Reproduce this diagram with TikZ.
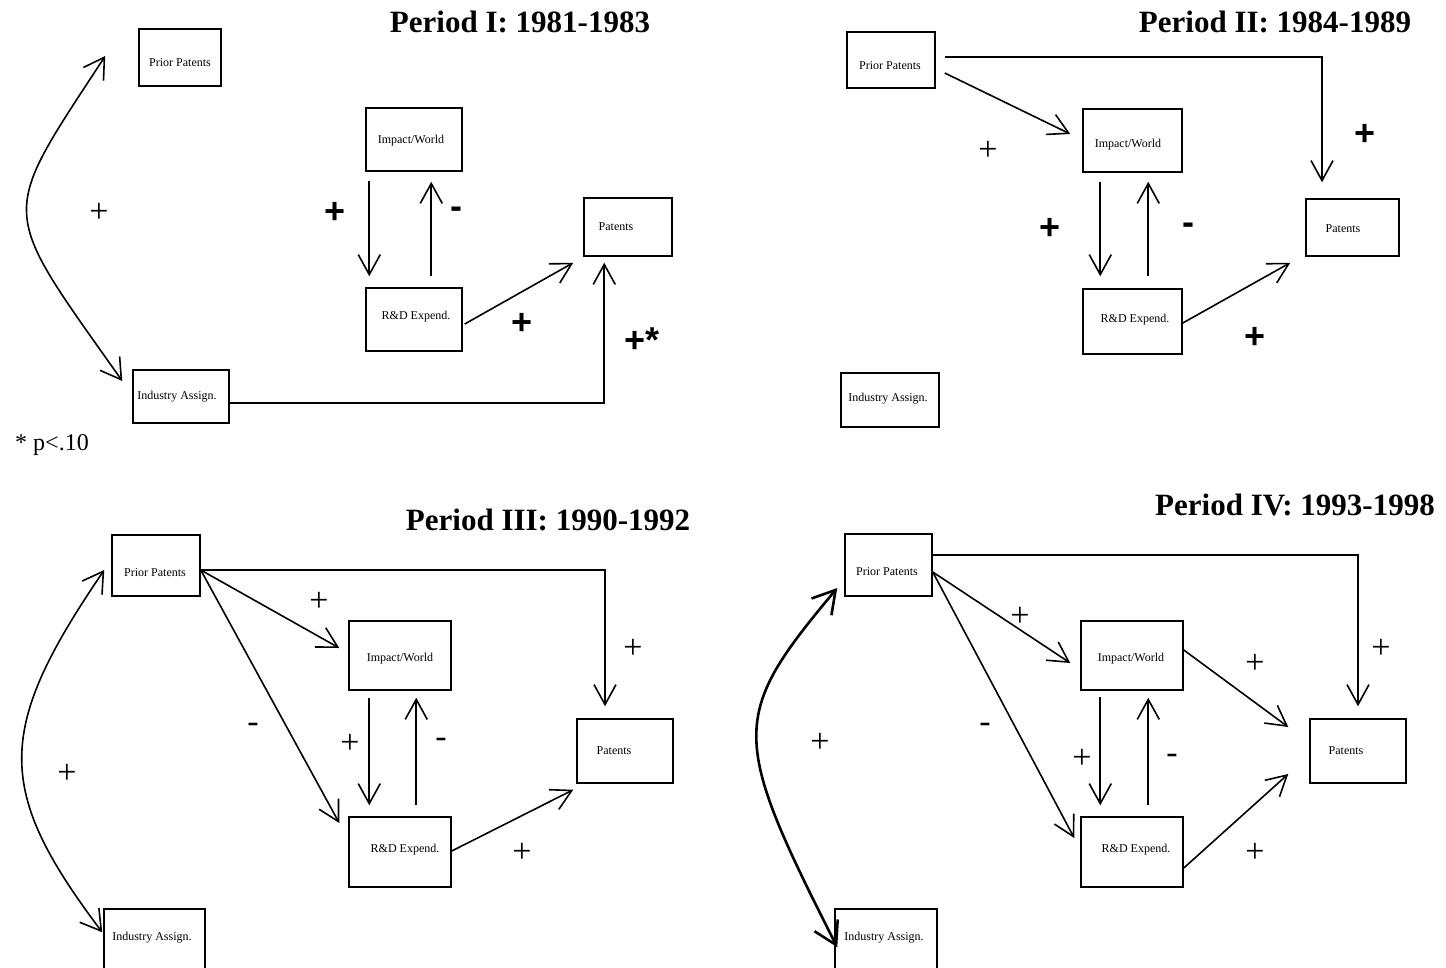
\documentclass[tikz,border=0pt]{standalone}
\usepackage{fontspec}
\setmainfont{Liberation Serif}
\setsansfont{Liberation Sans}
\usetikzlibrary{arrows.meta,calc}
\tikzset{
  box/.style={draw, line width=1.5pt, inner sep=0pt},
  lbl/.style={inner sep=0pt, font=\rmfamily\fontsize{12}{12}\selectfont},
  txt/.style args={#1/#2/#3}{label={[lbl,xshift=#1pt,yshift=#2pt]center:#3}},
  arr/.style={line width=1.6pt, -{Straight Barb[length=20pt,width=22pt]}},
  darr/.style={line width=1.6pt, {Straight Barb[length=20pt,width=24pt]}-{Straight Barb[length=20pt,width=24pt]}},
  tdarr/.style={line width=2.6pt, {Straight Barb[length=22pt,width=26pt]}-{Straight Barb[length=22pt,width=26pt]}},
  pb/.style={font=\sffamily\bfseries\fontsize{36}{36}\selectfont, inner sep=0pt},
  pt/.style={font=\rmfamily\fontsize{34}{34}\selectfont, inner sep=0pt},
  ttl/.style={font=\rmfamily\bfseries\fontsize{31}{31}\selectfont, inner sep=0pt},
}
\begin{document}
\begin{tikzpicture}[x=1pt,y=-1pt]
\useasboundingbox (0,0) rectangle (1446,967);
\clip (0,0) rectangle (1446,967);
\fill[white] (0,0) rectangle (1446,967);

% ---------------- Period I ----------------
\node[ttl] (t1) at (520,22) {Period I: 1981-1983};
\node[box, minimum width=82, minimum height=57, txt={0/-5.5/Prior Patents}] (pp1) at (180,57.5) {};
\node[box, minimum width=96, minimum height=63, txt={-3/-1.5/Impact/World}] (iw1) at (414,139.5) {};
\node[box, minimum width=88, minimum height=58, txt={-12/0/Patents}] (pa1) at (628,227) {};
\node[box, minimum width=96, minimum height=63, txt={2/2.5/R\&D Expend.}] (rd1) at (414,319.5) {};
\node[box, minimum width=96, minimum height=53, txt={-4/0/Industry Assign.}] (ia1) at (181,396.5) {};
\node[font=\rmfamily\fontsize{24}{24}\selectfont, inner sep=0pt] (note1) at (52,445) {* p<.10};

\draw[darr] ($(pp1.west)+(-33,-1.5)$) .. controls (-2,220) and (-2,205) .. ($(ia1.west)+(-10,-15.5)$);
\draw[arr] ($(iw1.south west)+(4,9)$) -- ($(rd1.north west)+(4,-11)$);
\draw[arr] ($(rd1.north west)+(66,-11)$) -- ($(iw1.south west)+(66,10)$);
\draw[arr] ($(rd1.east)+(2,4.5)$) -- ($(pa1.south west)+(-10,6)$);
\draw[arr] ($(ia1.east)+(0,6.5)$) -| ($(pa1.south west)+(21,6)$);

\node[pt] (l1a) at (99,213) {+};
\node[pb] (l1b) at (335,213) {+};
\node[pb] (l1c) at (456,213) {-};
\node[pb] (l1d) at (522,324) {+};
\node[pb] (l1e) at (642,340) {+*};

% ---------------- Period II ----------------
\node[ttl] (t2) at (1275,22) {Period II: 1984-1989};
\node[box, minimum width=88, minimum height=56, txt={-1/-6/Prior Patents}] (pp2) at (891,60) {};
\node[box, minimum width=99, minimum height=63, txt={-4.5/-4.5/Impact/World}] (iw2) at (1132.5,140.5) {};
\node[box, minimum width=93, minimum height=57, txt={-9.5/-1.5/Patents}] (pa2) at (1352.5,227.5) {};
\node[box, minimum width=99, minimum height=65, txt={2.5/1.5/R\&D Expend.}] (rd2) at (1132.5,321.5) {};
\node[box, minimum width=98, minimum height=54, txt={-2/1/Industry Assign.}] (ia2) at (890,400) {};

\draw[arr] ($(pp2.east)+(9,-3)$) -| ($(pa2.north)+(-30.5,-16)$);
\draw[arr] ($(pp2.east)+(9,13)$) -- ($(iw2.west)+(-12,-6.5)$);
\draw[arr] ($(iw2.south west)+(18,9)$) -- ($(rd2.north west)+(18,-12)$);
\draw[arr] ($(rd2.north west)+(66,-12)$) -- ($(iw2.south west)+(66,9)$);
\draw[arr] ($(rd2.east)+(0,1.5)$) -- ($(pa2.south west)+(-15,6)$);

\node[pt] (l2a) at (988,151) {+};
\node[pb] (l2b) at (1365,135) {+};
\node[pb] (l2c) at (1050,229) {+};
\node[pb] (l2d) at (1188,229) {-};
\node[pb] (l2e) at (1255,338) {+};

% ---------------- Period III ----------------
\node[ttl] (t3) at (548,520) {Period III: 1990-1992};
\node[box, minimum width=88, minimum height=61, txt={-1/-7.5/Prior Patents}] (pp3) at (156,565.5) {};
\node[box, minimum width=102, minimum height=69, txt={0/-3.5/Impact/World}] (iw3) at (400,655.5) {};
\node[box, minimum width=96, minimum height=64, txt={-11/0/Patents}] (pa3) at (625,751) {};
\node[box, minimum width=102, minimum height=70, txt={5/2/R\&D Expend.}] (rd3) at (400,852) {};
\node[box, minimum width=101, minimum height=76, txt={-2.5/9/Industry Assign.}] (ia3) at (154.5,947) {};

\coordinate (o3) at ($(pp3.east)+(0,4.5)$);
\draw[darr] ($(pp3.west)+(-7,4.5)$) .. controls (-5,730) and (-5,790) .. ($(ia3.north west)+(-1,24)$);
\draw[arr] (o3) -| ($(pa3.north)+(-20,-12)$);
\draw[arr] (o3) -- ($(iw3.west)+(-9,-7.5)$);
\draw[arr] (o3) -- ($(rd3.west)+(-9,-29)$);
\draw[arr] ($(iw3.south west)+(21,7)$) -- ($(rd3.north west)+(21,-11)$);
\draw[arr] ($(rd3.north west)+(68,-11)$) -- ($(iw3.south west)+(68,7)$);
\draw[arr] ($(rd3.east)+(0,-1)$) -- ($(pa3.south west)+(-3,6)$);

\node[pt] (l3a) at (319,602) {+};
\node[pt] (l3b) at (633,649) {+};
\node[pt] (l3c) at (67,774) {+};
\node[pt] (l3d) at (253,728) {-};
\node[pt] (l3e) at (350,744) {+};
\node[pt] (l3f) at (441,743) {-};
\node[pt] (l3g) at (522,853) {+};

% ---------------- Period IV ----------------
\node[ttl] (t4) at (1295,505) {Period IV: 1993-1998};
\node[box, minimum width=87, minimum height=62, txt={-1.5/-7/Prior Patents}] (pp4) at (888.5,565) {};
\node[box, minimum width=102, minimum height=69, txt={-1/-3.5/Impact/World}] (iw4) at (1132,655.5) {};
\node[box, minimum width=96, minimum height=64, txt={-12/0/Patents}] (pa4) at (1358,751) {};
\node[box, minimum width=102, minimum height=70, txt={4/2/R\&D Expend.}] (rd4) at (1132,852) {};
\node[box, minimum width=102, minimum height=76, txt={-2/9/Industry Assign.}] (ia4) at (886,947) {};

\coordinate (o4) at ($(pp4.east)+(0,7)$);
\draw[tdarr] ($(pp4.west)+(-7,23)$) .. controls (730,716) and (730,736) .. ($(ia4.north west)+(3,39)$);
\draw[arr] ($(pp4.east)+(-2,-10)$) -| ($(pa4.north)+(0,-12)$);
\draw[arr] (o4) -- ($(iw4.west)+(-10,7.5)$);
\draw[arr] (o4) -- ($(rd4.west)+(-6,-14)$);
\draw[arr] ($(iw4.south west)+(20,6)$) -- ($(rd4.north west)+(20,-11)$);
\draw[arr] ($(rd4.north west)+(68,-11)$) -- ($(iw4.south west)+(68,7)$);
\draw[arr] ($(iw4.east)+(0,-5.5)$) -- ($(pa4.west)+(-21,-24)$);
\draw[arr] ($(rd4.east)+(0,16)$) -- ($(pa4.west)+(-21,23)$);

\node[pt] (l4a) at (1020,617) {+};
\node[pt] (l4b) at (985,728) {-};
\node[pt] (l4c) at (820,743) {+};
\node[pt] (l4d) at (1082,759) {+};
\node[pt] (l4e) at (1172,759) {-};
\node[pt] (l4f) at (1255,664) {+};
\node[pt] (l4g) at (1381,649) {+};
\node[pt] (l4h) at (1255,853) {+};
\end{tikzpicture}
\end{document}
